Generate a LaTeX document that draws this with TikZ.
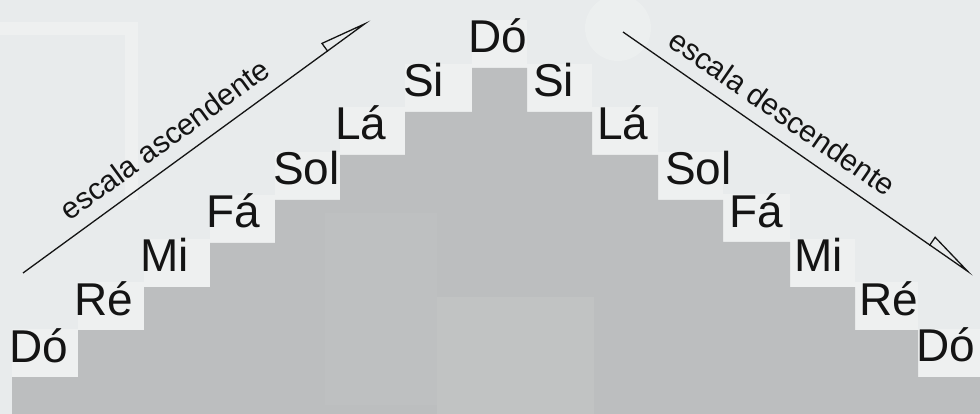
\documentclass[tikz,border=0pt]{standalone}
\usepackage{fontspec}
\setmainfont{Liberation Sans}
\usetikzlibrary{arrows.meta}
\definecolor{bgc}{HTML}{E8EBEC}
\definecolor{cellc}{HTML}{EEF0F0}
\definecolor{faintc}{HTML}{ECEFEF}
\definecolor{stepc}{HTML}{BCBEBF}
\definecolor{steplc}{HTML}{C1C3C3}
\definecolor{inkc}{HTML}{141414}
\tikzset{
  note/.style={anchor=base west, inner sep=0pt, font=\fontsize{46}{46}\selectfont, text=inkc},
  scaletxt/.style={sloped, above=13pt, inner sep=0pt, font=\fontsize{30}{30}\selectfont, text=inkc},
  scalearrow/.style={draw=inkc, line width=1.3pt, -{Triangle[open, left, length=50pt, width=20pt]}},
}
\begin{document}
\begin{tikzpicture}[x=1pt, y=-1pt]
\useasboundingbox (0,0) rectangle (980,414);
\fill[bgc] (0,0) rectangle (980,414);
% faint background decorations
\fill[cellc] (0,22) rectangle (138,35);
\fill[cellc] (125,22) rectangle (138,200);
\fill[faintc] (618,28) circle (33);
% label cells
\foreach \xa/\xb/\yt in {12/78/377, 78/144/330, 144/210/287, 210/275/243, 275/340/200, 340/405/155, 405/472/112, 472/527/68, 527/592/112, 592/658/155, 658/723/200, 723/790/242, 790/855/287, 855/918/330, 918/980/377}
  \fill[cellc] (\xa,\yt-48) rectangle (\xb,\yt);
% staircase
\fill[stepc] (12,414) -- (12,377) -- (78,377) -- (78,330) -- (144,330) -- (144,287)
  -- (210,287) -- (210,243) -- (275,243) -- (275,200) -- (340,200) -- (340,155)
  -- (405,155) -- (405,112) -- (472,112) -- (472,68) -- (527,68) -- (527,112)
  -- (592,112) -- (592,155) -- (658,155) -- (658,200) -- (723,200) -- (723,242)
  -- (790,242) -- (790,287) -- (855,287) -- (855,330) -- (918,330) -- (918,377)
  -- (980,377) -- (980,414) -- cycle;
% faint tonal patches inside the staircase
\fill[steplc] (437,297) rectangle (594,414);
\fill[steplc, opacity=0.5] (325,213) rectangle (437,405);
% labels
\node[note] (l1) at (9.5,362) {Dó};
\node[note] (l2) at (74,315) {Ré};
\node[note] (l3) at (140,272) {Mi};
\node[note] (l4) at (206,228) {Fá};
\node[note] (l5) at (273,185) {Sol};
\node[note] (l6) at (335,140) {Lá};
\node[note] (l7) at (403,97) {Si};
\node[note] (l8) at (468,53) {Dó};
\node[note] (r7) at (533,97) {Si};
\node[note] (r6) at (597,140) {Lá};
\node[note] (r5) at (665,185) {Sol};
\node[note] (r4) at (729,228) {Fá};
\node[note] (r3) at (794,271) {Mi};
\node[note] (r2) at (859,315) {Ré};
\node[note] (r1) at (916,361) {Dó};
% arrows
\coordinate (aS) at (23,273);
\coordinate (aE) at (370,20);
\coordinate (dS) at (623,32);
\coordinate (dE) at (973,275);
\draw[scalearrow] (aS) -- (aE) node[scaletxt, pos=0.45] (asc) {escala ascendente};
\draw[scalearrow] (dS) -- (dE) node[scaletxt, pos=0.415] (desc) {escala descendente};
\end{tikzpicture}
\end{document}
